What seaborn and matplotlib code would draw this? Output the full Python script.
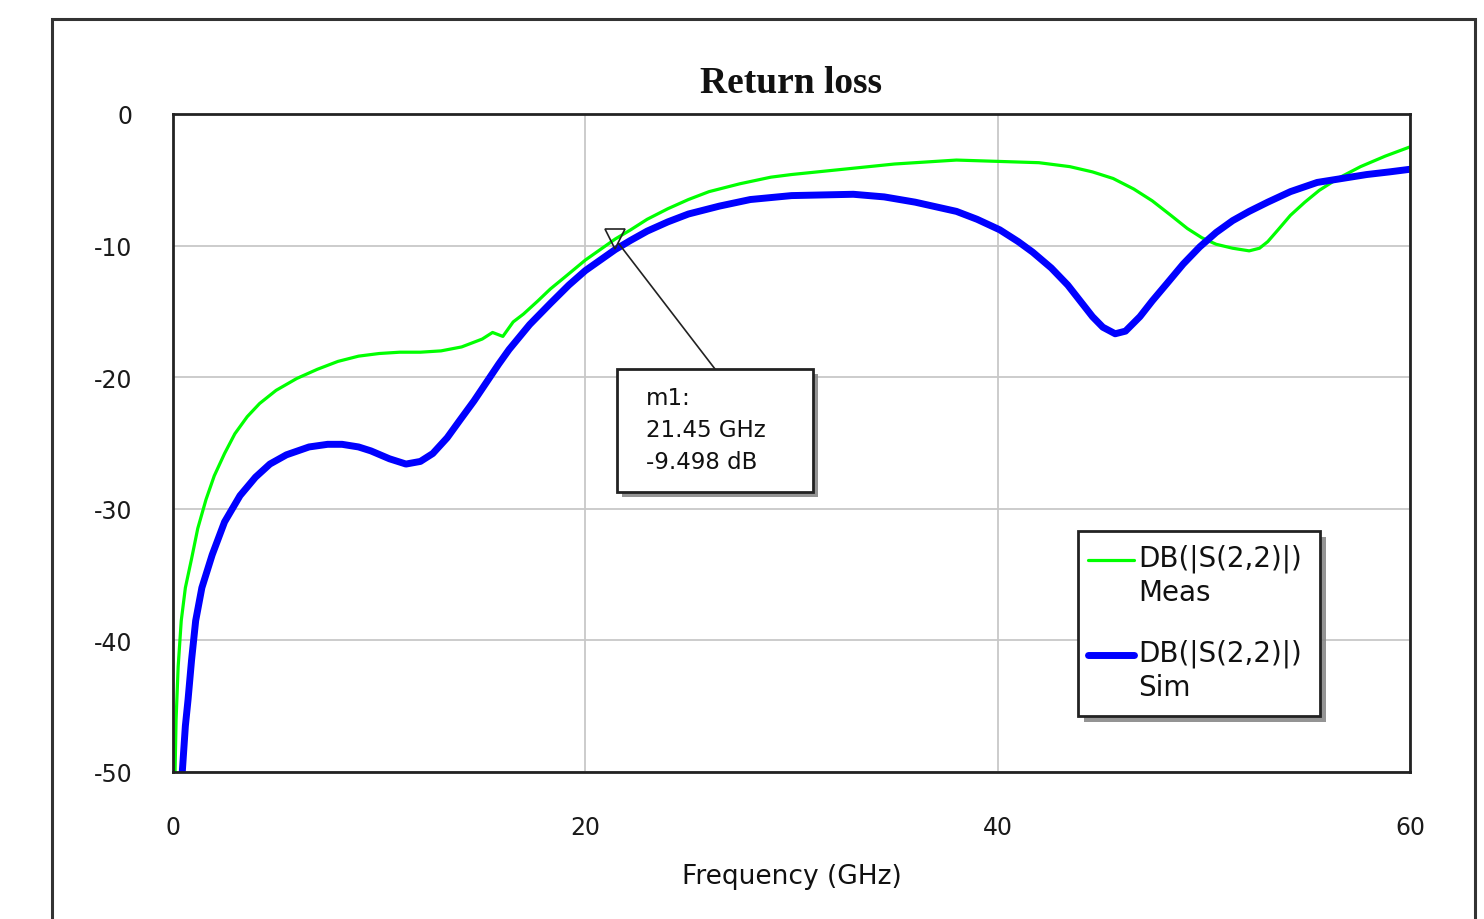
import numpy as np
import pandas as pd
import seaborn as sns
import matplotlib.pyplot as plt
import matplotlib.patches as mpatches
import matplotlib.patheffects as pe
from matplotlib.lines import Line2D

meas_freq = [0.1, 0.15, 0.25, 0.4, 0.6, 0.9, 1.2, 1.6, 2.0, 2.5, 3.0, 3.6, 4.2, 5.0, 6.0, 7.0,
             8.0, 9.0, 10.0, 11.0, 12.0, 13.0, 14.0, 15.0, 15.5, 16.0, 16.5, 17.0, 17.7, 18.3,
             19.0, 20.0, 21.45, 22.2, 23.0, 24.0, 25.0, 26.0, 27.5, 29.0, 30.0, 32.5, 35.0,
             38.0, 40.0, 42.0, 43.5, 44.6, 45.6, 46.6, 47.5, 48.4, 49.2, 49.9, 50.6, 51.4,
             52.2, 52.7, 53.1, 53.6, 54.2, 54.9, 55.6, 56.5, 57.6, 58.8, 60.0]
meas_db = [-50, -46, -42, -38.5, -36, -33.8, -31.5, -29.3, -27.5, -25.8, -24.3, -23.0, -22.0,
           -21.0, -20.1, -19.4, -18.8, -18.4, -18.2, -18.1, -18.1, -18.0, -17.7, -17.1, -16.6,
           -16.9, -15.8, -15.2, -14.2, -13.3, -12.4, -11.1, -9.5, -8.8, -8.0, -7.2, -6.5, -5.9,
           -5.3, -4.8, -4.6, -4.2, -3.8, -3.5, -3.6, -3.7, -4.0, -4.4, -4.9, -5.7, -6.6, -7.7,
           -8.7, -9.4, -9.9, -10.2, -10.4, -10.2, -9.7, -8.8, -7.7, -6.7, -5.8, -4.9, -4.0,
           -3.2, -2.5]

# simulated S22 (blue)
sim_freq = [0.45, 0.6, 0.73, 0.9, 1.1, 1.4, 1.9, 2.5, 3.25, 4.0, 4.7, 5.5, 6.6, 7.5, 8.2, 9.0,
            9.6, 10.5, 11.3, 12.0, 12.6, 13.3, 13.9, 14.6, 15.2, 15.8, 16.3, 17.3, 18.3, 19.2,
            20.0, 21.45, 22.2, 23.0, 24.0, 25.0, 26.5, 28.0, 30.0, 33.0, 34.5, 36.0, 38.0,
            39.0, 40.1, 41.0, 41.7, 42.6, 43.4, 44.1, 44.6, 45.1, 45.7, 46.2, 46.9, 47.5,
            48.2, 49.0, 49.8, 50.6, 51.4, 52.2, 53.1, 54.2, 55.5, 56.7, 57.9, 59.0, 60.0]
sim_db = [-50, -46.5, -44.5, -41.5, -38.5, -36.0, -33.5, -31.0, -29.0, -27.6, -26.6, -25.9,
          -25.3, -25.1, -25.1, -25.3, -25.6, -26.2, -26.6, -26.4, -25.8, -24.6, -23.3, -21.8,
          -20.4, -19.0, -17.9, -16.0, -14.4, -13.0, -11.9, -10.3, -9.6, -8.9, -8.2, -7.6,
          -7.0, -6.5, -6.2, -6.1, -6.3, -6.7, -7.4, -8.0, -8.8, -9.7, -10.5, -11.7, -13.0,
          -14.4, -15.4, -16.2, -16.7, -16.5, -15.4, -14.2, -12.9, -11.4, -10.1, -9.0, -8.1,
          -7.4, -6.7, -5.9, -5.2, -4.9, -4.6, -4.4, -4.2]

marker_freq = 21.45
marker_db = -9.498

x_ticks = [0, 20, 40, 60]
y_ticks = [0, -10, -20, -30, -40, -50]
series_labels = ["DB(|S(2,2)|)\nMeas", "DB(|S(2,2)|)\nSim"]

meas = pd.DataFrame({"freq": meas_freq, "db": meas_db})
sim = pd.DataFrame({"freq": sim_freq, "db": sim_db})

sns.set_style("white")
plt.rcParams['font.family'] = ['DejaVu Sans']
plt.rcParams['axes.unicode_minus'] = False

W, H = 1484, 920
fig = plt.figure(figsize=(W / 100, H / 100), dpi=100)
ax = fig.add_axes([173 / W, 1 - 773 / H, (1410 - 173) / W, (773 - 115) / H])


def fx(px):
    return px / W


def fy(py):
    return 1 - py / H


def shadowed(patch, off=3.5):
    # offset is in points
    patch.set_path_effects([pe.SimplePatchShadow(offset=(off, -off), shadow_rgbFace="#888888",
                                                 alpha=0.9), pe.Normal()])
    return patch


# outer frame of the chart window
fig.add_artist(mpatches.Rectangle((fx(52), -0.05), fx(1475 - 52), 1.05 - 20 / H,
                                  transform=fig.transFigure, fill=False,
                                  edgecolor="#333333", linewidth=2.2, clip_on=False))

sns.lineplot(data=meas, x="freq", y="db", color="#00ff00", linewidth=2.3, sort=False,
             estimator=None, ax=ax)
sns.lineplot(data=sim, x="freq", y="db", color="#0000ff", linewidth=5.0, sort=False,
             estimator=None, ax=ax)

ax.set_xlim(0, 60)
ax.set_ylim(-50, 0)
ax.set_xticks(x_ticks)
ax.set_yticks(y_ticks)
ax.set_xticklabels([str(v) for v in x_ticks])
ax.set_yticklabels([str(v) for v in y_ticks])
ax.tick_params(axis="both", length=0, labelsize=17, colors="#1a1a1a")
ax.tick_params(axis="y", pad=29)
ax.tick_params(axis="x", pad=31)
ax.grid(True, color="#c8c8c8", linewidth=1.3)
for s in ax.spines.values():
    s.set_color("#222222")
    s.set_linewidth(2.0)

ax.set_xlabel("Frequency (GHz)", fontsize=19, labelpad=17, color="#111111")
ax.set_ylabel("")
ax.set_title("Return loss", fontsize=27, fontweight="bold", family=["Liberation Serif"],
             pad=16, color="#111111")

# marker m1 with its readout box
ax.plot([marker_freq], [marker_db], marker="v", markersize=15, markerfacecolor="none",
        markeredgecolor="#222222", markeredgewidth=1.2, linestyle="none", zorder=5)
ax.annotate("", xy=(marker_freq, marker_db), xytext=(fx(715), fy(370)),
            textcoords="figure fraction",
            arrowprops=dict(arrowstyle="-", color="#222222", linewidth=1.2, shrinkA=0, shrinkB=4))
fig.add_artist(shadowed(mpatches.Rectangle((fx(617), fy(493)), fx(813 - 617), (493 - 370) / H,
                                           transform=fig.transFigure, facecolor="white",
                                           edgecolor="#222222", linewidth=2.0, zorder=6)))
fig.text(fx(646), fy(387), "m1:\n%.2f GHz\n%.3f dB" % (marker_freq, marker_db),
         fontsize=16.5, linespacing=1.5, ha="left", va="top", color="#111111", zorder=7)

# legend box, drawn by hand so the sample line sits on the first text line
fig.add_artist(shadowed(mpatches.Rectangle((fx(1078), fy(717)), fx(1320 - 1078), (717 - 532) / H,
                                           transform=fig.transFigure, facecolor="white",
                                           edgecolor="#222222", linewidth=2.0, zorder=6), off=4))
for label, color, lw, top in [(series_labels[0], "#00ff00", 2.3, 545),
                              (series_labels[1], "#0000ff", 5.0, 640)]:
    fig.add_artist(Line2D([fx(1088), fx(1134)], [fy(top + 16), fy(top + 16)], color=color,
                          linewidth=lw, transform=fig.transFigure, zorder=7))
    fig.text(fx(1138), fy(top), label, fontsize=20, linespacing=1.25, ha="left", va="top",
             color="#111111", zorder=7)

fig.savefig("out.png", dpi=100)
